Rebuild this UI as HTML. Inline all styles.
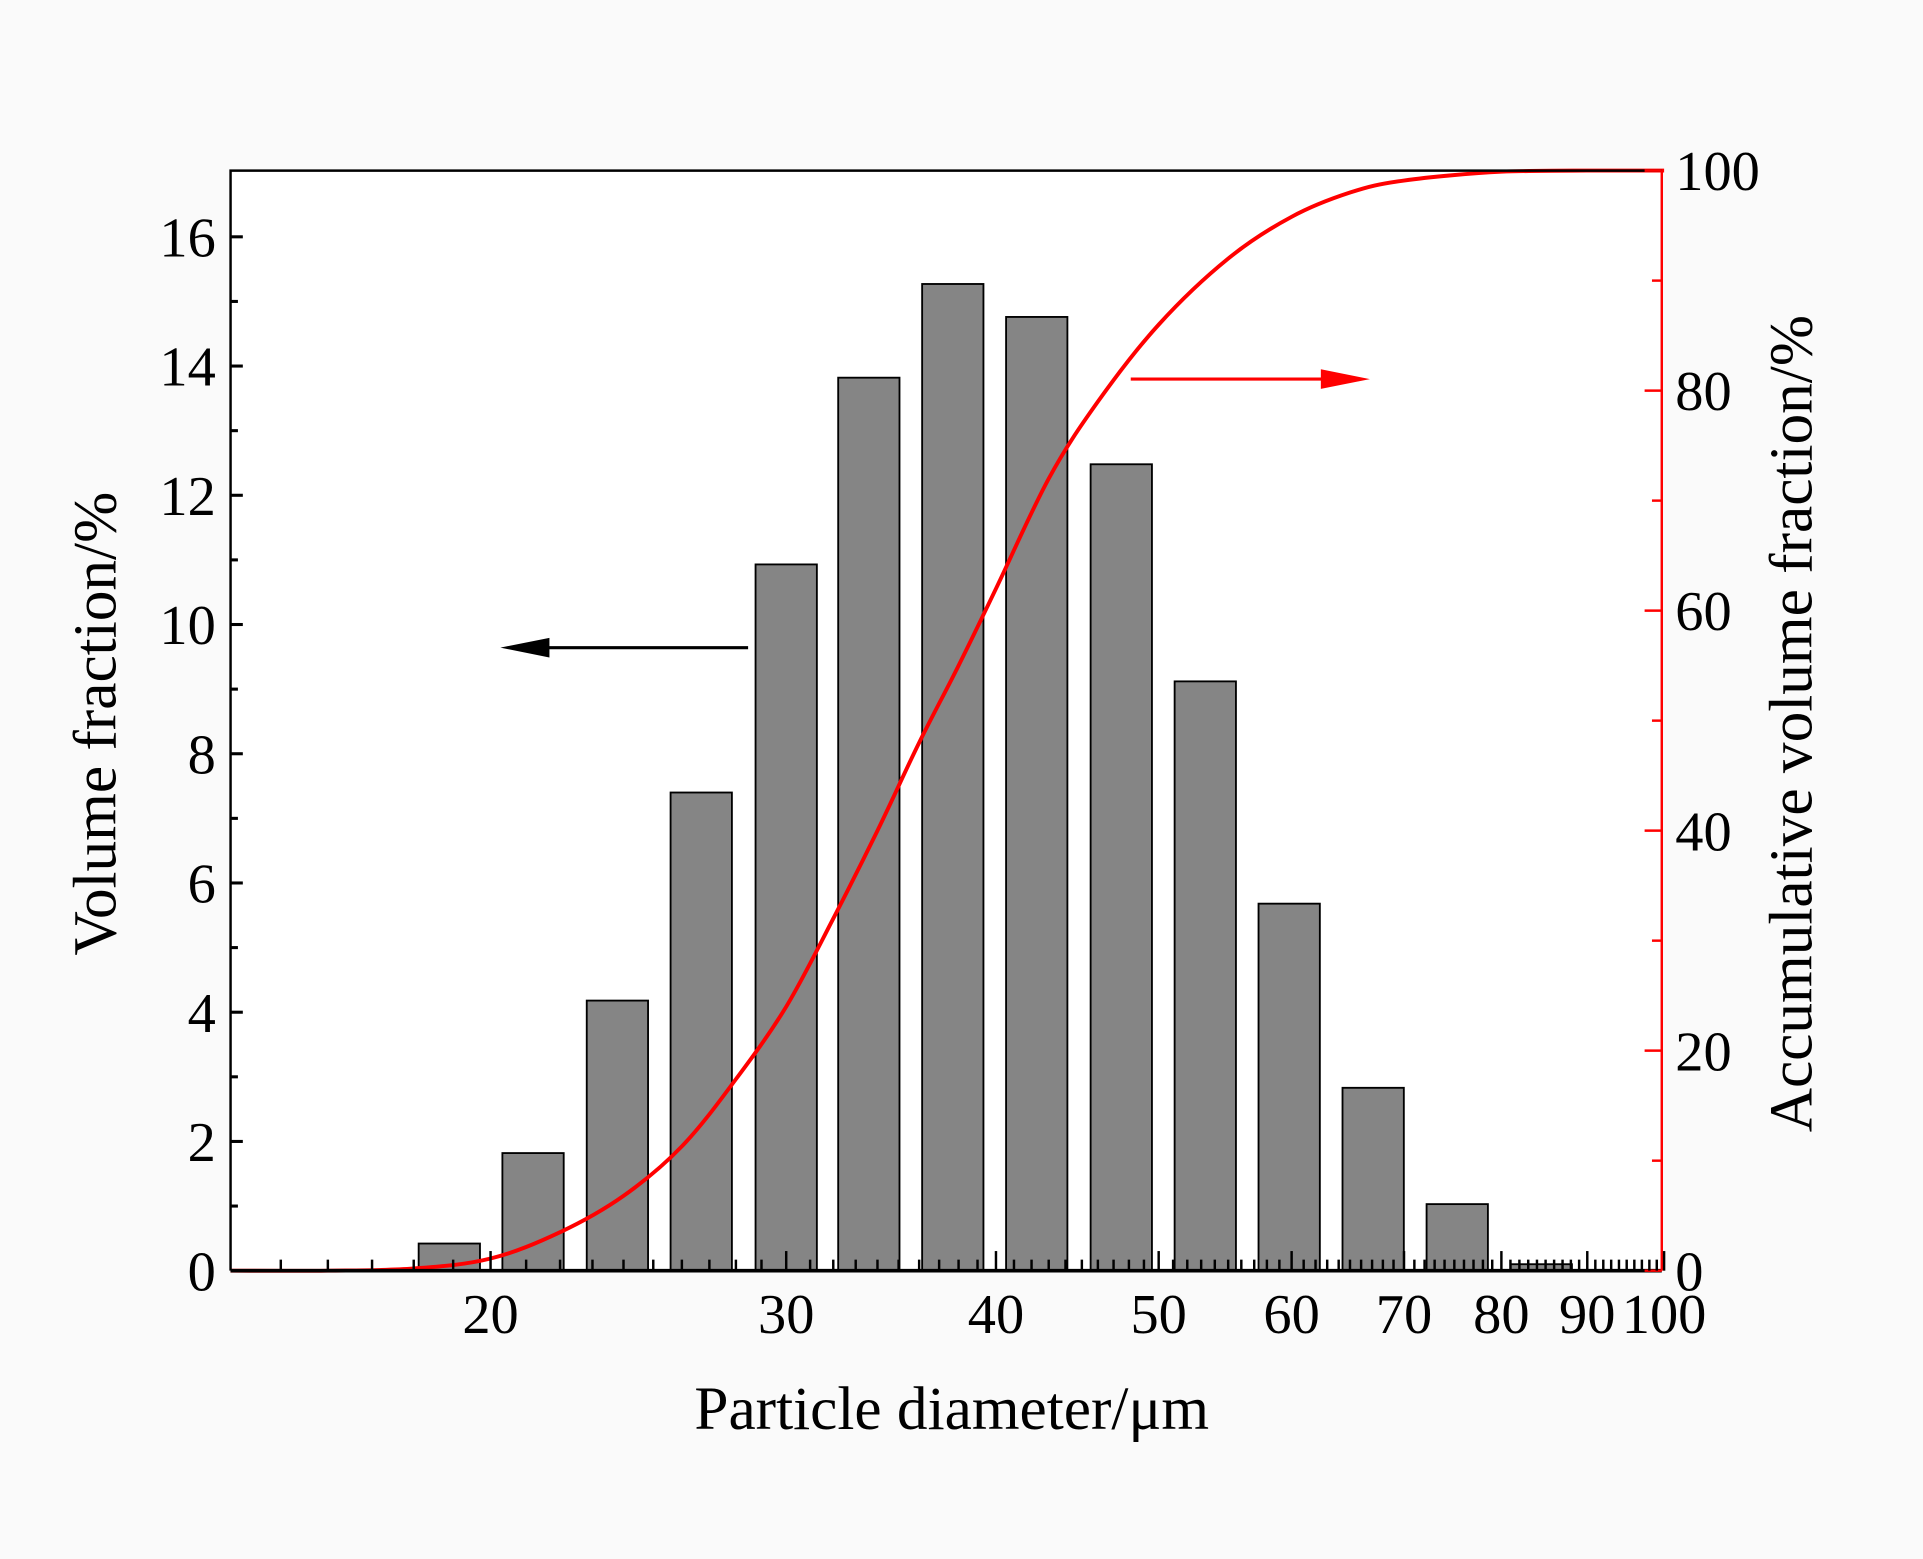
<!DOCTYPE html>
<html><head><meta charset="utf-8"><style>
html,body{margin:0;padding:0;background:#fafafa;}
svg{display:block;}
text{font-family:"Liberation Serif",serif;}
</style></head><body>
<svg id="chart" width="1923" height="1559" viewBox="0 0 1568 1271" xmlns="http://www.w3.org/2000/svg">
<rect x="0" y="0" width="1568" height="1271" fill="#fafafa"/>
<rect x="188" y="139" width="1167" height="897" fill="#ffffff"/>
<g id="bars"></g>
<g id="curve"></g>
<g id="axes"></g>
<text x="776" y="1165" font-size="50" text-anchor="middle">Particle diameter/μm</text>
<text transform="translate(94,590) rotate(-90)" font-size="50" text-anchor="middle">Volume fraction/%</text>
<text transform="translate(1477,590) rotate(-90)" font-size="50" text-anchor="middle">Accumulative volume fraction/%</text>
<g>
<line x1="610" y1="528" x2="430" y2="528" stroke="#000" stroke-width="2.5"/>
<polygon points="408,528 448,520 448,536" fill="#000"/>
</g>
<g>
<line x1="922" y1="309" x2="1095" y2="309" stroke="#f00" stroke-width="2.5"/>
<polygon points="1117,309 1077,301 1077,317" fill="#f00"/>
</g>
</svg>
<script>
const diameters=[18.9,21.2,23.8,26.7,30.0,33.6,37.7,42.3,47.5,53.3,59.8,67.1,75.3,84.5];
const volumes=[0.42,1.82,4.18,7.4,10.93,13.82,15.27,14.76,12.48,9.12,5.68,2.83,1.03,0.1];
const cumX=[14,16,18,20,22,24,26,28,30,32,34,36,38,40,43,46,50,55,60,65,70,80,90,100];
const cumY=[0,0,0.2,1.1,3.5,6.8,11.3,17.4,24,32,40,48,55,62,72,79,86,92,95.8,98,99.1,99.9,100,100];
const leftTicks=[0,2,4,6,8,10,12,14,16];
const rightTicks=[0,20,40,60,80,100];
const xTicks=[20,30,40,50,60,70,80,90,100];
const NS='http://www.w3.org/2000/svg';
const L=188,R=1355,T=139,B=1036;
const xs=d=>400+1369*(Math.log10(d)-Math.log10(20));
const yl=v=>B-(B-193)/16*v;
const yr=v=>B-(B-T)/100*v;
function mk(tag,attrs,parent){const e=document.createElementNS(NS,tag);for(const k in attrs)e.setAttribute(k,attrs[k]);parent.appendChild(e);return e;}
const gb=document.getElementById('bars');
diameters.forEach((d,i)=>{
  const x0=xs(d*Math.pow(10,-0.01826)),x1=xs(d*Math.pow(10,0.01826));
  const r=mk('rect',{x:x0,y:yl(volumes[i]),width:x1-x0,height:B-yl(volumes[i]),fill:'#858585',stroke:'#000','stroke-width':1.5},gb);
  
  
});
const gc=document.getElementById('curve');
const P=cumX.map((d,i)=>[xs(d),yr(cumY[i])]);
let dstr='M'+P[0][0].toFixed(1)+','+P[0][1].toFixed(1);
for(let i=0;i<P.length-1;i++){
  const p0=P[Math.max(i-1,0)],p1=P[i],p2=P[i+1],p3=P[Math.min(i+2,P.length-1)];
  const c1=[p1[0]+(p2[0]-p0[0])/6,p1[1]+(p2[1]-p0[1])/6];
  const c2=[p2[0]-(p3[0]-p1[0])/6,p2[1]-(p3[1]-p1[1])/6];
  c1[1]=Math.max(c1[1],T);c2[1]=Math.max(c2[1],T);
  dstr+='C'+c1.map(v=>v.toFixed(1)).join(',')+' '+c2.map(v=>v.toFixed(1)).join(',')+' '+p2.map(v=>v.toFixed(1)).join(',');
}
const p=mk('path',{d:dstr,fill:'none',stroke:'#f00','stroke-width':3.2,'stroke-linejoin':'round'},gc);


const ga=document.getElementById('axes');
const frame=mk('path',{d:`M${L},${B}L${L},${T}L${R},${T}`,fill:'none',stroke:'#000','stroke-width':2},ga);


const xa=mk('line',{x1:L,y1:B,x2:R,y2:B,stroke:'#000','stroke-width':3},ga);


const ra=mk('line',{x1:R,y1:T,x2:R,y2:B,stroke:'#f00','stroke-width':2},ga);


for(let v=0;v<=16;v++){
  mk('line',{x1:L,y1:yl(v),x2:L+(v%2?6:10),y2:yl(v),stroke:'#000','stroke-width':2.5},ga);
}
leftTicks.forEach(v=>{const t=mk('text',{x:176,y:yl(v)+16,'font-size':46,'text-anchor':'end'},ga);t.textContent=v;

});
for(let v=0;v<=100;v+=10){
  mk('line',{x1:R,y1:yr(v),x2:R-(v%20?8:14),y2:yr(v),stroke:'#f00','stroke-width':2},ga);
}
rightTicks.forEach(v=>{const t=mk('text',{x:1366,y:yr(v)+16,'font-size':46},ga);t.textContent=v;

});
for(let d=15;d<=100;d++){
  const major=d%10===0;
  mk('line',{x1:xs(d),y1:B,x2:xs(d),y2:B-(major?16:9),stroke:'#000','stroke-width':2},ga);
}
xTicks.forEach(v=>{const t=mk('text',{x:xs(v),y:1087,'font-size':46,'text-anchor':'middle'},ga);t.textContent=v;

});
</script>
</body></html>
